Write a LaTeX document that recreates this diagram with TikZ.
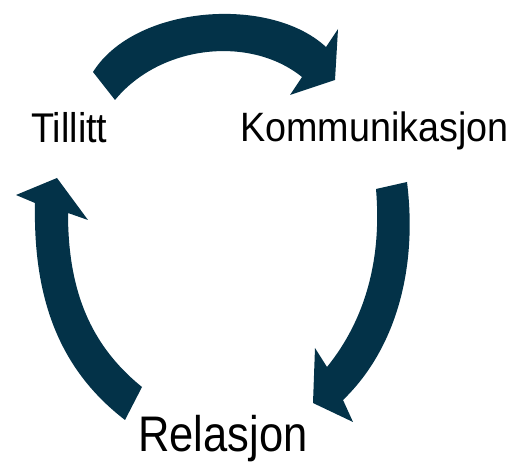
\documentclass[tikz,border=0pt]{standalone}
\usepackage{fontspec}
\setmainfont{Liberation Sans}
\definecolor{navy}{RGB}{3,50,72}
\begin{document}
\begin{tikzpicture}[x=1pt,y=-1pt,
  arrowshape/.style={fill=navy,draw=none},
  lbl/.style={inner sep=0pt,anchor=base west,text=black}]
\path[use as bounding box] (0,0) rectangle (520,462);
% top arrow (Tillitt -> Kommunikasjon)
\fill[arrowshape] (93,72) .. controls (135,5) and (270,-5) .. (326,47)
  -- (338,29) -- (335,80) -- (290,95) -- (302,77)
  .. controls (250,35) and (160,45) .. (115,100) -- cycle;
% right arrow (Kommunikasjon -> Relasjon)
\fill[arrowshape] (407,182) .. controls (418,270) and (395,350) .. (343,400)
  -- (353,422) -- (313,403) -- (315,348) -- (327,367)
  .. controls (365,320) and (382,260) .. (376,189) -- cycle;
% left arrow (Relasjon -> Tillitt)
\fill[arrowshape] (125,420) .. controls (60,370) and (33,300) .. (35,203)
  -- (16,195) -- (57,178) -- (88,220) -- (68,213)
  .. controls (68,290) and (90,345) .. (142,387) -- cycle;
\node[lbl] (tillitt) at (31,143) {\fontsize{41.5}{41.5}\selectfont\scalebox{0.91}[1]{Tillitt}};
\node[lbl] (komm) at (240,142) {\fontsize{41}{41}\selectfont\scalebox{0.92}[1]{Kommunikasjon}};
\node[lbl] (rel) at (138,452) {\fontsize{50}{50}\selectfont\scalebox{0.87}[1]{Relasjon}};
\end{tikzpicture}
\end{document}
